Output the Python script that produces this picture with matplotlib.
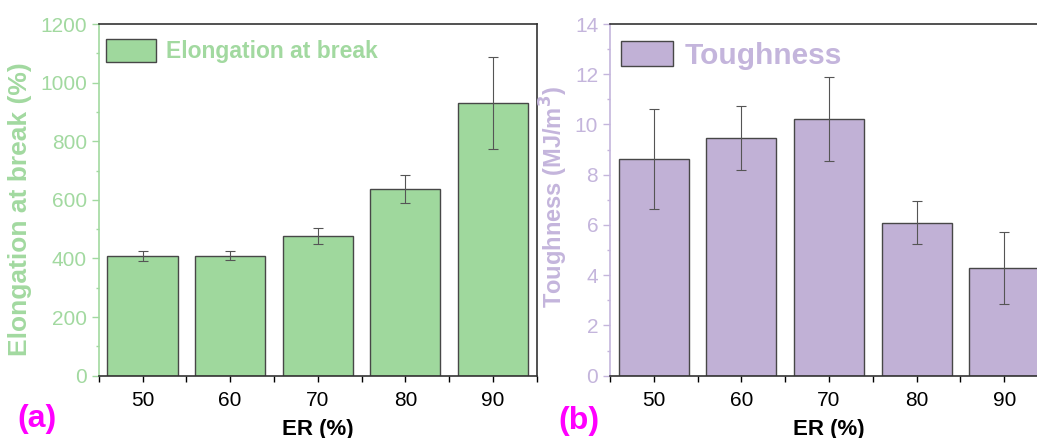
import matplotlib
matplotlib.use("Agg")
import matplotlib.pyplot as plt
from matplotlib.ticker import MultipleLocator

plt.rcParams["font.family"] = ["Liberation Sans", "DejaVu Sans"]

er = [50, 60, 70, 80, 90]
elongation = [410, 410, 478, 637, 930]
elongation_err = [17, 14, 27, 49, 157]
toughness = [8.62, 9.45, 10.23, 6.09, 4.29]
toughness_err = [2.0, 1.27, 1.68, 0.85, 1.45]

GREEN = "#9fd89d"
GREEN_TXT = "#a2d9a0"
PURPLE = "#c1b1d6"
PURPLE_TXT = "#c4b5dc"
EDGE = "#474747"

fig = plt.figure(figsize=(10.37, 4.38), dpi=100)
ax1 = fig.add_axes([0.0952, 0.1422, 0.4224, 0.803])
ax2 = fig.add_axes([0.5882, 0.1422, 0.4224, 0.803])


def draw_panel(ax, values, errors, color, txt_color, ylim, major, minor,
               ylabel, ylabel_size, legend_label, legend_size, handle_len,
               handle_h, legend_anchor):
    ax.bar(er, values, width=8, color=color, edgecolor=EDGE, linewidth=1.0,
           label=legend_label, zorder=2)
    ax.errorbar(er, values, yerr=errors, fmt="none", ecolor="#555555",
                elinewidth=0.8, capsize=3.5, capthick=0.8, zorder=3)
    ax.set_xlim(45, 95)
    ax.set_ylim(*ylim)
    ax.set_xticks(er)
    ax.xaxis.set_minor_locator(MultipleLocator(5))
    ax.yaxis.set_major_locator(MultipleLocator(major))
    ax.yaxis.set_minor_locator(MultipleLocator(minor))
    ax.tick_params(axis="x", which="both", direction="out", length=4,
                   width=1, colors="black", labelsize=15, pad=7)
    ax.tick_params(axis="y", which="major", direction="out", length=5,
                   width=1, colors=txt_color, labelsize=15, pad=3.5)
    ax.tick_params(axis="y", which="minor", direction="out", length=2.5,
                   width=1, colors=txt_color)
    for side in ("top", "right", "bottom"):
        ax.spines[side].set_color("#333333")
        ax.spines[side].set_linewidth(1.2)
    ax.spines["left"].set_color(txt_color)
    ax.spines["left"].set_linewidth(1.2)
    ax.set_xlabel("ER (%)", fontsize=16, fontweight="bold", labelpad=6.5)
    ax.set_ylabel(ylabel, fontsize=ylabel_size, fontweight="bold",
                  color=txt_color)
    leg = ax.legend(loc="upper left", bbox_to_anchor=legend_anchor,
                    frameon=False, fontsize=legend_size,
                    handlelength=handle_len, handleheight=handle_h,
                    handletextpad=0.4, borderaxespad=0, borderpad=0)
    for t in leg.get_texts():
        t.set_color(txt_color)
        t.set_fontweight("bold")


draw_panel(ax1, elongation, elongation_err, GREEN, GREEN_TXT, (0, 1200),
           200, 100, "Elongation at break (%)", 19, "Elongation at break",
           16.5, 2.2, 1.2, (0.0167, 0.958))
draw_panel(ax2, toughness, toughness_err, PURPLE, PURPLE_TXT, (0, 14),
           2, 1, "Toughness (MJ/m$^\\mathbf{3}$)", 17, "Toughness", 21.5,
           1.75, 0.93, (0.025, 0.952))

ax1.yaxis.set_label_coords(-0.152, 0.475)
ax2.yaxis.set_label_coords(-0.091, 0.508)

fig.text(0.0164, 0.043, "(a)", color="#ff00ff", fontsize=23,
         fontweight="bold", ha="left", va="center")
fig.text(0.538, 0.038, "(b)", color="#ff00ff", fontsize=23,
         fontweight="bold", ha="left", va="center")

fig.savefig("out.png", dpi=100)
